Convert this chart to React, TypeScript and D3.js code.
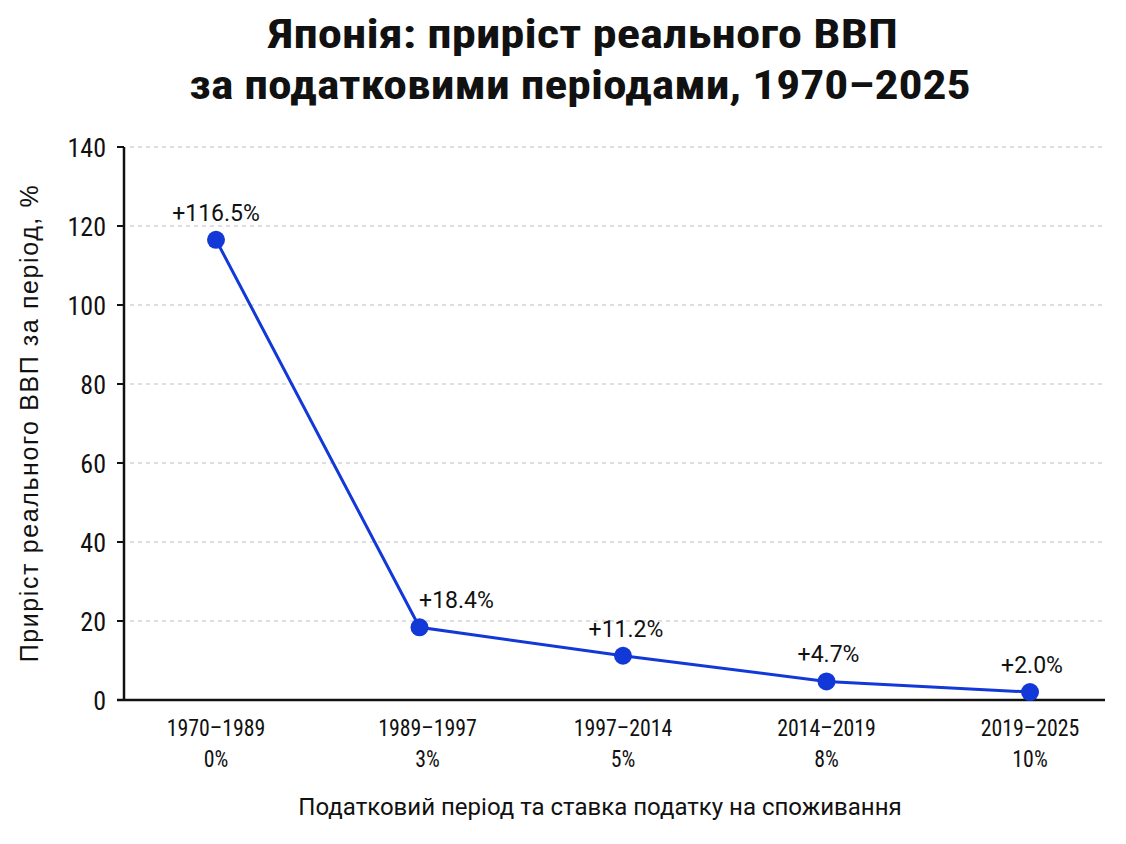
import { useMemo } from "react";
import * as d3 from "d3";

const periods = ["1970–1989", "1989–1997", "1997–2014", "2014–2019", "2019–2025"];
const taxRates = ["0%", "3%", "5%", "8%", "10%"];
const growth = [116.5, 18.4, 11.2, 4.7, 2.0];
const yTicks = [0, 20, 40, 60, 80, 100, 120, 140];

const WIDTH = 1126;
const HEIGHT = 844;
const LEFT = 124;
const RIGHT = 1105;
const TOP = 147;
const BOTTOM = 700;

const COND = "'Roboto Condensed', 'Liberation Sans Narrow', 'DejaVu Sans Condensed', Roboto, sans-serif";
const SANS = "Roboto, 'Liberation Sans', sans-serif";
const BLUE = "#1238d8";

// second label sits to the right so it clears the steep segment
const labelDx = [0, 37, 3, 2, 2];

export default function App() {
  const x = useMemo(() => d3.scalePoint<string>().domain(periods).range([216, 1030]), []);
  const y = useMemo(() => d3.scaleLinear().domain([0, 140]).range([BOTTOM, TOP]), []);

  const line = d3
    .line<number>()
    .x((_, i) => x(periods[i])!)
    .y((d) => y(d));

  return (
    <svg width={WIDTH} height={HEIGHT} style={{ position: "absolute", left: 0, top: 0, background: "#fff" }}>
      <g fontFamily={COND} fontWeight="bold" fontSize={40} textAnchor="middle" fill="#111">
        <text transform="translate(583,48) scale(1.22,1)">Японія: приріст реального ВВП</text>
        <text transform="translate(580,99) scale(1.19,1)">за податковими періодами, 1970–2025</text>
      </g>

      {yTicks.map((t) => (
        <g key={t}>
          {t > 0 && (
            <line x1={LEFT + 6} x2={RIGHT} y1={y(t)} y2={y(t)} stroke="#bcbcbc" strokeWidth={1.2} strokeDasharray="4 4" />
          )}
          <line x1={LEFT - 7} x2={LEFT} y1={y(t)} y2={y(t)} stroke="#111" strokeWidth={2} />
          <text x={106} y={y(t) + 9.5} textAnchor="end" fontSize={26} fontFamily={COND} fill="#111">{t}</text>
        </g>
      ))}

      <line x1={LEFT} x2={LEFT} y1={TOP} y2={BOTTOM + 1} stroke="#111" strokeWidth={2.5} />
      <line x1={LEFT - 7} x2={RIGHT} y1={BOTTOM} y2={BOTTOM} stroke="#111" strokeWidth={2.5} />

      {periods.map((p, i) => (
        <g key={p} fontSize={23} fontFamily={COND} textAnchor="middle" fill="#111"
          transform={`translate(${x(p)! + (i === 1 ? 8 : 0)},0) scale(0.95,1)`}>
          <text x={0} y={736}>{p}</text>
          <text x={0} y={767}>{taxRates[i]}</text>
        </g>
      ))}

      <path d={line(growth)!} fill="none" stroke={BLUE} strokeWidth={3} />
      {growth.map((v, i) => (
        <circle key={i} cx={x(periods[i])!} cy={y(v)} r={9} fill={BLUE} />
      ))}
      {growth.map((v, i) => (
        <text key={i} fontSize={23} fontFamily={SANS} textAnchor="middle" fill="#111"
          x={x(periods[i])! + labelDx[i]} y={y(v) - 19}>
          +{v.toFixed(1)}%
        </text>
      ))}

      <text fontSize={24} fontFamily={SANS} textAnchor="middle" fill="#111" x={600} y={815}>
        Податковий період та ставка податку на споживання
      </text>
      <text fontSize={25} fontFamily="'Liberation Sans', Arial, sans-serif" textAnchor="middle" fill="#111"
        transform="translate(38,423) rotate(-90)" letterSpacing={1.6}>
        Приріст реального ВВП за період,  %
      </text>
    </svg>
  );
}
